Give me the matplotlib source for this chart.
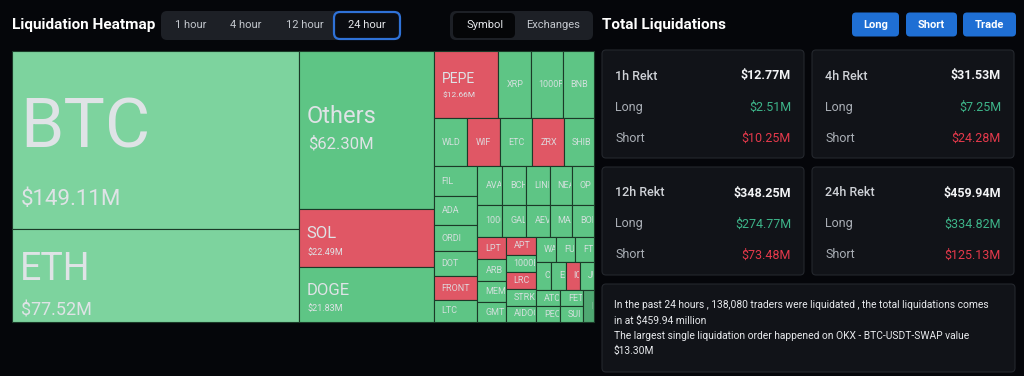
import numpy as np
import matplotlib.pyplot as plt
from matplotlib.patches import Rectangle, FancyBboxPatch
from matplotlib.transforms import Bbox

plt.rcParams['font.family'] = ['Roboto', 'DejaVu Sans']

# 24h liquidations per coin, $M (sorted like the heatmap)
coins = ['BTC', 'ETH', 'Others', 'SOL', 'DOGE', 'PEPE', 'XRP', '1000FLOKI', 'BNB',
         'WLD', 'WIF', 'ETC', 'ZRX', 'SHIB', 'FIL', 'ADA', 'ORDI', 'DOT', 'FRONT', 'LTC',
         'AVAX', 'BCH', 'LINK', 'NEAR', 'OP', '1000SATS', 'GALA', 'AEVO', 'MATIC', 'BOME',
         'LPT', 'ARB', 'MEME', 'GMT', 'APT', '1000BONK', 'LRC', 'STRK', 'AIDOGE',
         'WAVES', 'FUN', 'FTM', 'CRV', 'ENA', 'IO', 'JUP', 'ATOM', 'PEOPLE', 'FET', 'SUI', 'NOT']
liq = [149.11, 77.52, 62.30, 22.49, 21.83, 12.66, 6.31, 6.25, 6.15,
       4.76, 4.66, 4.50, 4.45, 4.20, 3.80, 3.70, 3.40, 3.20, 3.00, 2.85,
       2.79, 2.71, 2.60, 2.50, 2.49, 2.33, 2.27, 2.17, 2.09, 2.08,
       1.84, 1.82, 1.73, 1.62, 1.60, 1.57, 1.50, 1.48, 1.45,
       1.44, 1.37, 1.36, 1.24, 1.22, 1.20, 1.16, 1.12, 1.10, 1.08, 1.06, 1.00]
short_heavy = ['PEPE', 'SOL', 'WIF', 'ZRX', 'FRONT', 'LPT', 'APT', 'LRC', 'IO']

# rekt panels
windows = ['1h', '4h', '12h', '24h']
total = [12.77, 31.53, 348.25, 459.94]
longs = [2.51, 7.25, 274.77, 334.82]
shorts = [10.25, 24.28, 73.48, 125.13]

traders = 138080
big_order = ('OKX', 'BTC-USDT-SWAP', 13.30)

BG = '#05060a'
GREEN = '#5ec585'
LIGHT = '#7dd39e'
RED = '#e05765'
TXT = '#dfe3e6'


def squarify(vals, x, y, w, h, ratio=0.5 * (1 + 5 ** 0.5)):
    # echarts-style squarified treemap (golden ratio target)
    s_all = float(sum(vals))
    areas = [v / s_all * w * h for v in vals]
    rect = [x, y, w, h]
    out = []

    def worst(row, side):
        s = sum(row)
        f = side * side * ratio
        return max(f * max(row) / s ** 2, s ** 2 / (f * min(row)))

    def place(row, side, flush):
        horiz = side == rect[2]
        other = sum(row) / side
        lim = rect[3] if horiz else rect[2]
        if flush or other > lim:
            other = lim
        pos = rect[0] if horiz else rect[1]
        end = pos + (rect[2] if horiz else rect[3])
        for k, a in enumerate(row):
            step = a / other
            if k == len(row) - 1 or end - pos < step:
                step = end - pos
            if horiz:
                out.append((pos, rect[1], step, other))
            else:
                out.append((rect[0], pos, other, step))
            pos += step
        if horiz:
            rect[1] += other
            rect[3] -= other
        else:
            rect[0] += other
            rect[2] -= other

    row, best, side, i = [], np.inf, min(w, h), 0
    while i < len(areas):
        row.append(areas[i])
        score = worst(row, side)
        if score <= best:
            i += 1
            best = score
        else:
            row.pop()
            place(row, side, False)
            side = min(rect[2], rect[3])
            row, best = [], np.inf
    if row:
        place(row, side, True)
    return out


fig = plt.figure(figsize=(10.24, 3.76), dpi=100, facecolor=BG)
ax = fig.add_axes([0, 0, 1, 1])
ax.set_xlim(0, 1024)
ax.set_ylim(376, 0)
ax.axis('off')
ax.set_facecolor(BG)


def clip_to(t, x, y, w, h):
    p = ax.transData.transform([[x, y], [x + w, y + h]])
    t.set_clip_box(Bbox.from_extents(p[:, 0].min(), p[:, 1].min(), p[:, 0].max(), p[:, 1].max()))
    t.set_clip_on(True)


# ---- treemap
# name size, value size (pt) for tiles that show the amount
big_lbl = {'BTC': (50, 16), 'ETH': (27, 13), 'Others': (17, 12),
           'SOL': (12, 6.5), 'DOGE': (12, 6.5), 'PEPE': (10, 6)}
tiles = squarify(liq, 12, 51, 582, 271)
for name, v, (x, y, w, h) in zip(coins, liq, tiles):
    if name in short_heavy:
        c = RED
    elif name in ('BTC', 'ETH'):
        c = LIGHT
    elif name == coins[-1]:
        c = '#4fa872'
    else:
        c = GREEN
    ax.add_patch(Rectangle((x, y), w, h, facecolor=c, edgecolor='#1b3a28', lw=0.8))
    if name in big_lbl:
        ns, vs = big_lbl[name]
        cn, cv = ns * 0.99, vs * 0.99
        yn = y + 0.40 * h + cn / 2
        yv = yn + 0.85 * cn + cv
        t1 = ax.text(x + 8, yn, name, fontsize=ns, color=TXT, ha='left', va='baseline')
        t2 = ax.text(x + 9, yv, '$%.2fM' % v, fontsize=vs, color=TXT, ha='left', va='baseline')
        clip_to(t1, x, y, w, h)
        clip_to(t2, x, y, w, h)
    else:
        t = ax.text(x + 8, y + h / 2, name, fontsize=6.5, color=TXT, alpha=0.9,
                    ha='left', va='center')
        clip_to(t, x, y, w - 1, h)

# ---- header
ax.text(12, 25.5, 'Liquidation Heatmap', fontsize=11, fontweight='bold', color='white',
        ha='left', va='center')
ax.add_patch(FancyBboxPatch((161, 11), 240, 29, boxstyle='round,pad=0,rounding_size=6',
                            facecolor='#1d2026', edgecolor='none'))
ax.add_patch(FancyBboxPatch((334, 12), 66, 27, boxstyle='round,pad=0,rounding_size=6',
                            facecolor='#0a0c11', edgecolor='#2f72d8', lw=1.6))
for lab, cx in zip(['1 hour', '4 hour', '12 hour', '24 hour'], [191, 246, 305, 367]):
    ax.text(cx, 25.5, lab, fontsize=8, color='#e4e6ea' if lab == '24 hour' else '#c4c8ce',
            ha='center', va='center')

ax.add_patch(FancyBboxPatch((450, 11), 143, 29, boxstyle='round,pad=0,rounding_size=6',
                            facecolor='#1d2026', edgecolor='none'))
ax.add_patch(FancyBboxPatch((453, 13), 62, 25, boxstyle='round,pad=0,rounding_size=5',
                            facecolor='#050608', edgecolor='none'))
ax.text(485, 25.5, 'Symbol', fontsize=8, color='#e4e6ea', ha='center', va='center')
ax.text(553, 25.5, 'Exchanges', fontsize=8, color='#c4c8ce', ha='center', va='center')

ax.text(602, 24.5, 'Total Liquidations', fontsize=11, fontweight='bold', color='white',
        ha='left', va='center')
for lab, x0, bw in zip(['Long', 'Short', 'Trade'], [852, 906, 963], [47, 51, 53]):
    ax.add_patch(FancyBboxPatch((x0, 12.5), bw, 24, boxstyle='round,pad=0,rounding_size=4',
                                facecolor='#1f6fd4', edgecolor='none'))
    ax.text(x0 + bw / 2, 24.5, lab, fontsize=8, fontweight='bold', color='white',
            ha='center', va='center')

# ---- rekt panels
for k, win in enumerate(windows):
    px = 602 + (k % 2) * 210
    py = 50 + (k // 2) * 117
    ax.add_patch(FancyBboxPatch((px, py), 202, 108, boxstyle='round,pad=0,rounding_size=4',
                                facecolor='#111318', edgecolor='#24272d', lw=0.8))
    ax.text(px + 13, py + 26, win + ' Rekt', fontsize=9, fontweight='medium', color='#cfd2d7',
            ha='left', va='center')
    ax.text(px + 189, py + 26, '$%.2fM' % total[k], fontsize=9, fontweight='bold', color='#f2f3f5',
            ha='right', va='center')
    ax.text(px + 13, py + 57, 'Long', fontsize=9, color='#a9aeb5', ha='left', va='center')
    ax.text(px + 189, py + 57, '$%.2fM' % longs[k], fontsize=9, color='#3db489',
            ha='right', va='center')
    ax.text(px + 13, py + 88, 'Short', fontsize=9, color='#a9aeb5', ha='left', va='center')
    ax.text(px + 189, py + 88, '$%.2fM' % shorts[k], fontsize=9, color='#e5394b',
            ha='right', va='center')

# ---- summary
ax.add_patch(FancyBboxPatch((602, 284), 413, 88, boxstyle='round,pad=0,rounding_size=4',
                            facecolor='#111318', edgecolor='#24272d', lw=0.8))
lines = ['In the past 24 hours , {:,} traders were liquidated , the total liquidations comes'.format(traders),
         'in at ${:.2f} million'.format(total[-1]),
         'The largest single liquidation order happened on {} - {} value'.format(*big_order[:2]),
         '${:.2f}M'.format(big_order[2])]
for j, ln in enumerate(lines):
    ax.text(614, 305 + j * 15.4, ln, fontsize=7.4, color='#e8eaed', ha='left', va='center')

plt.savefig('out.png', dpi=100, facecolor=BG)
